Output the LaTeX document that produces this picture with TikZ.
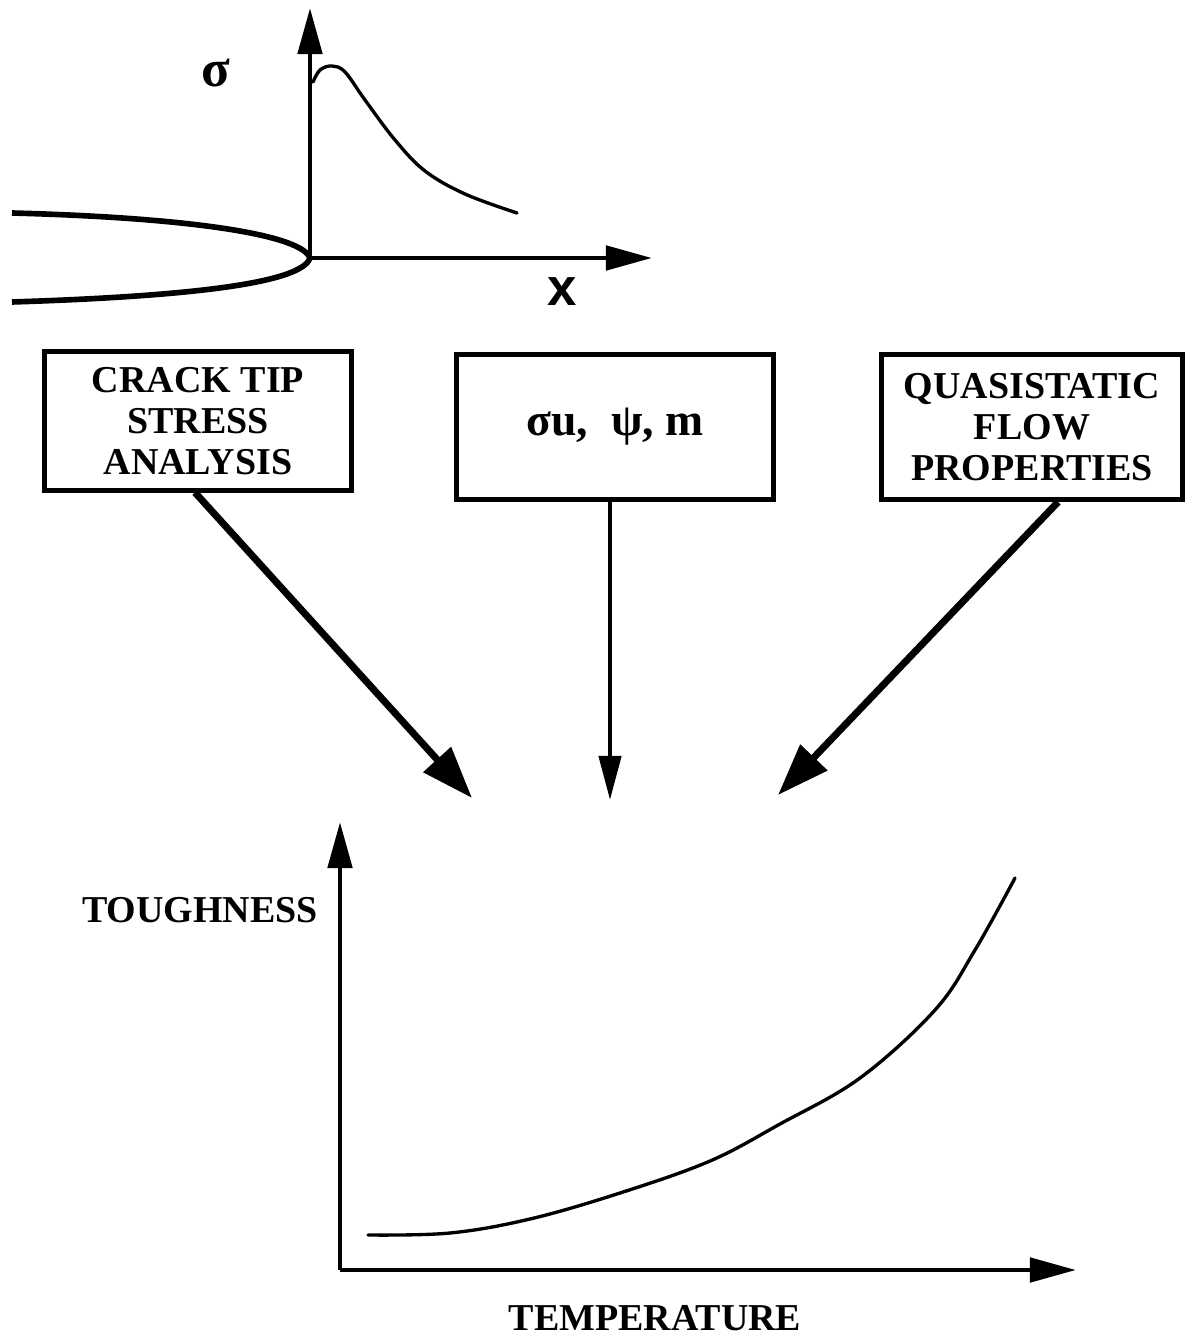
\documentclass[tikz,border=0pt]{standalone}
\usepackage{fontspec}
\setmainfont{Liberation Serif}
\newfontfamily\axisfont{Liberation Sans}
\usepackage{tikz}
\usetikzlibrary{arrows.meta}

\tikzset{
  inbox/.style={draw,line width=1.4pt,align=center,font=\bfseries\fontsize{10.8}{11.6}\selectfont,inner sep=2pt},
  axis/.style={line width=1.4pt,-{Triangle[length=0.46cm,width=0.24cm]}},
  bigarrow/.style={line width=2pt,-{Triangle[length=0.52cm,width=0.36cm]}},
  thinarrow/.style={line width=1.25pt,-{Triangle[length=0.44cm,width=0.22cm]}},
  graph/.style={line width=0.95pt,line join=round,line cap=round}
}

\begin{document}
\begin{tikzpicture}[x=0.01cm,y=-0.01cm]
\useasboundingbox (0,0) rectangle (1203,1337);

% stress ahead of the crack tip
\coordinate (tip) at (310,258);
\draw[line width=1.6pt] (12,213) .. controls (200,218) and (302,236) .. (tip)
  .. controls (302,282) and (200,296) .. (12,302);
\draw[axis] (tip) -- (310,8);
\draw[axis] (tip) -- (652,258);
\node[font=\bfseries\fontsize{15}{15}\selectfont] (sig) at (216,73) {σ};
\node[font=\axisfont\bfseries\fontsize{15}{15}\selectfont] (xlab) at (562,292) {x};
\draw[graph] plot[smooth,tension=0.6] coordinates {(313,82) (320,70) (332,66) (345,72) (365,100) (395,140) (425,171) (465,194) (517,213)};

% the three inputs
\node[inbox,minimum width=3.07cm,minimum height=1.38cm] (crack) at (198,421) {CRACK TIP\\STRESS\\ANALYSIS};
\node[inbox,minimum width=3.16cm,minimum height=1.45cm,font=\bfseries\fontsize{13}{14}\selectfont] (param) at (615,427) {σu,\ \ ψ, m};
\node[inbox,minimum width=3.01cm,minimum height=1.45cm] (flow) at (1032,427) {QUASISTATIC\\FLOW\\PROPERTIES};

\coordinate (inA) at (472,798);
\coordinate (inB) at (610,800);
\coordinate (inC) at (778,795);
\draw[bigarrow] ([xshift=-0.03cm]crack.south) -- (inA);
\draw[thinarrow] (param.south -| inB) -- (inB);
\draw[bigarrow] ([xshift=0.26cm]flow.south) -- (inC);

% toughness against temperature
\coordinate (org) at (340,1270);
\draw[axis] (org) -- (340,822);
\draw[axis] (org) -- (1076,1270);
\node[font=\bfseries\fontsize{10.8}{11}\selectfont] (tough) at (200,910) {TOUGHNESS};
\node[font=\bfseries\fontsize{10.8}{11}\selectfont] (temp) at (655,1318) {TEMPERATURE};
\draw[graph] plot[smooth,tension=0.6] coordinates {(368,1235) (450,1233) (530,1219) (620,1193) (710,1161) (780,1124) (860,1078) (935,1010) (975,950) (1015,878)};
\end{tikzpicture}
\end{document}
